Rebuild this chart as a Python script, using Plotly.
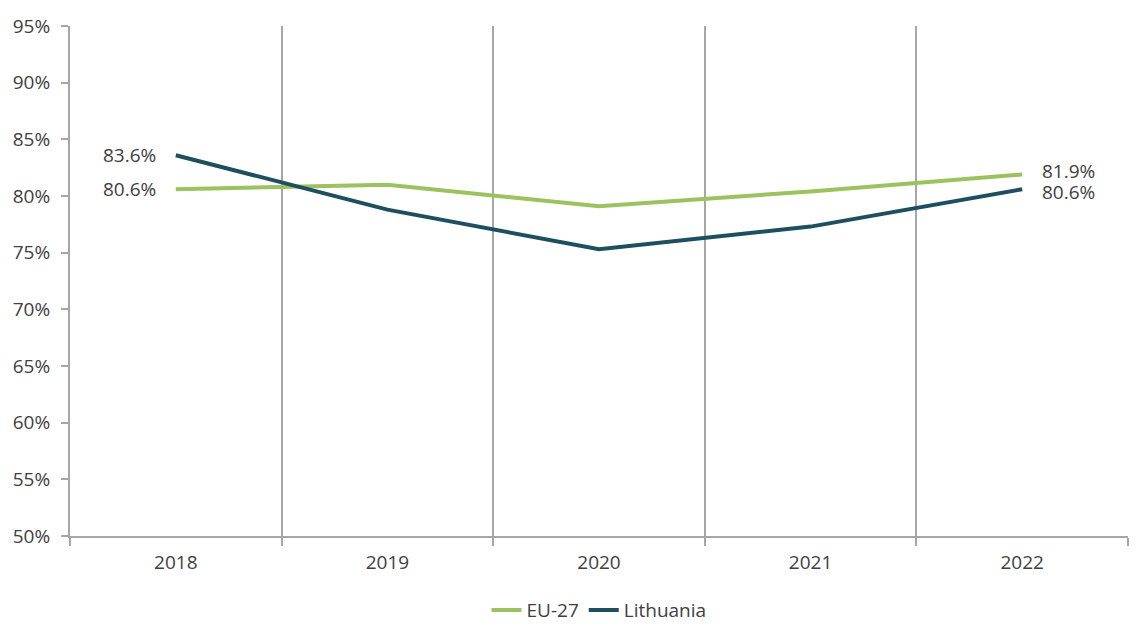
import plotly.graph_objects as go

years = ["2018", "2019", "2020", "2021", "2022"]
eu27 = [80.6, 81.0, 79.1, 80.4, 81.9]
lithuania = [83.6, 78.8, 75.3, 77.3, 80.6]
y_ticks = [50, 55, 60, 65, 70, 75, 80, 85, 90, 95]

GREEN = "#9BC25E"
TEAL = "#1E4F5E"
TEXT = "#404040"
GRID = "#A6A6A6"
FONT = "Open Sans, DejaVu Sans, sans-serif"

fig = go.Figure()
fig.add_trace(go.Scatter(x=years, y=eu27, name="EU-27", mode="lines",
                         line=dict(color=GREEN, width=4)))
fig.add_trace(go.Scatter(x=years, y=lithuania, name="Lithuania", mode="lines",
                         line=dict(color=TEAL, width=4)))

# end-point data labels (first point to the left, last point to the right)
last = len(years) - 1
label_shift = {("EU-27", 0): 0, ("Lithuania", 0): 0,
               ("EU-27", last): 3, ("Lithuania", last): -3}
for name, vals in (("EU-27", eu27), ("Lithuania", lithuania)):
    for idx, anchor, dx in ((0, "right", -18), (last, "left", 18)):
        fig.add_annotation(
            x=idx, y=vals[idx], xref="x", yref="y", text=f"{vals[idx]:.1f}%",
            showarrow=False, xanchor=anchor, yanchor="middle",
            xshift=dx, yshift=label_shift[(name, idx)],
            font=dict(family=FONT, size=19, color=TEXT),
        )

fig.update_layout(
    width=1144, height=642,
    margin=dict(l=62, r=24, t=18, b=114),
    paper_bgcolor="white", plot_bgcolor="white",
    font=dict(family=FONT, color=TEXT, size=19),
    showlegend=True,
    legend=dict(orientation="h", x=0.5, xanchor="center", y=-0.108, yanchor="top",
                font=dict(family=FONT, size=19, color=TEXT)),
    xaxis=dict(
        type="category", tickson="boundaries", automargin=False,
        showgrid=True, gridcolor=GRID, gridwidth=2,
        showline=True, linecolor=GRID, linewidth=2,
        ticks="outside", ticklen=8, tickcolor=GRID, tickwidth=2,
        ticklabelstandoff=8,
        tickfont=dict(family=FONT, size=19, color=TEXT),
        range=[-0.5, 4.5],
    ),
    yaxis=dict(
        range=[50, 95], tickvals=y_ticks, ticktext=[f"{v}%" for v in y_ticks],
        showgrid=False, zeroline=False, automargin=False,
        showline=True, linecolor=GRID, linewidth=2,
        ticks="outside", ticklen=7, tickcolor=GRID, tickwidth=2,
        ticklabelstandoff=7,
        tickfont=dict(family=FONT, size=19, color=TEXT),
    ),
)

fig.write_html("out.html")
